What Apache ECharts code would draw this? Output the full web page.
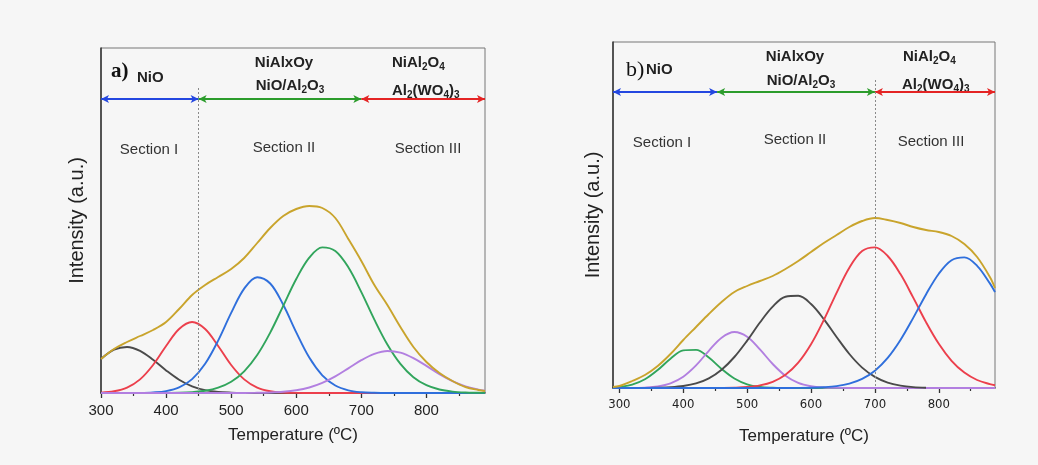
<!DOCTYPE html>
<html><head><meta charset="utf-8">
<script src="https://cdn.jsdelivr.net/npm/echarts@6/dist/echarts.min.js"></script>
<style>html,body{margin:0;padding:0;background:#f6f6f6}#c{width:1038px;height:465px}</style>
</head><body><div id="c"></div>
<script>
// ---------- Panel a ----------
const tempsA = [300,320,340,360,380,400,420,440,460,480,500,520,540,560,580,600,620,640,660,680,700,720,740,760,780,800,820,840,860,880,890];
const goldA   = [34,44,51,57,63,71,84,98,108,116,124,135,150,165,177,184,187,185,175,154,132,108,88,66,46,31,20,12,6,3,2];
const blackA  = [34,43.3,46,42.1,33.2,22.6,13.3,6.7,2.9,1.1,0.4,0.1,0,0,0,0,0,0,0,0,0,0,0,0,0,0,0,0,0,0,0];
const redA    = [0.4,1.7,5.4,13.6,28,47,64,71,64,47,28,13.6,5.4,1.7,0.4,0.1,0,0,0,0,0,0,0,0,0,0,0,0,0,0,0];
const blueA   = [0,0,0,0.1,0.6,1.9,5.6,13.9,29.2,52.4,80.1,104.4,115.8,109.5,88.2,60.6,35.4,17.7,7.5,2.7,0.8,0.2,0,0,0,0,0,0,0,0,0];
const greenA  = [0,0,0,0,0,0.1,0.3,0.9,2.2,5.3,11.2,21.7,38,60.4,87.2,114,135.3,145.6,142,125.7,100.9,73.4,48.5,29.1,15.8,7.8,3.5,1.4,0.5,0.2,0.1];
const purpleA = [0,0,0,0,0,0,0,0,0,0,0,0,0.2,0.5,1.2,2.7,5.5,10.1,16.6,24.6,32.8,39.1,42,40.4,34.9,27.1,18.9,11.9,6.7,3.4,2.3];
const majorTicksA = [300,400,500,600,700,800];
const minorTicksA = [350,450,550,650,750,850];
const sectionsA = [300,450,700,890];

// ---------- Panel b ----------
const tempsB = [290,300,320,340,360,380,400,420,440,460,480,500,520,540,560,580,600,620,640,660,680,700,720,740,760,780,800,820,840,860,880,888];
const goldB   = [1,2,7,13,22,34,48,61,74,86,96,102,107,112,119,127,136,145,153,161,167,170,168,165,161,158,156,152,144,131,111,100];
const greenB  = [0.5,1,3.3,8.7,18,29.3,37.6,38.1,30.4,19.1,9.5,3.7,1.1,0.3,0.05,0,0,0,0,0,0,0,0,0,0,0,0,0,0,0,0,0];
const purpleB = [0,0,0,0.4,1.6,4.7,11.3,22.6,37.2,50.3,56,51.3,38.6,24,12.2,5.1,1.8,0.5,0.1,0,0,0,0,0,0,0,0,0,0,0,0,0];
const blackB  = [0,0,0,0,0.3,0.8,2,4.6,9.7,18.3,31,47.4,65.5,81.4,91.3,92.2,84,68.9,51,34,20.4,11.1,5.4,2.4,0.9,0.3,null,null,null,null,null,null];
const redB    = [0,0,0,0,0,0,0,0,0,0.1,0.35,1,2.6,6.2,13.2,25.3,43.7,67.9,95.2,120.3,136.9,140.6,132,113.9,90.4,65.9,44.2,27.2,15.4,8,3.9,2.8];
const blueB   = [0,0,0,0,0,0,0,0,0,0,0,0,0,0,0.03,0.1,0.3,0.8,1.9,4.4,9.1,17.3,30.1,48,70.1,93.6,114.3,127.8,130.6,122.2,104.6,95.9];
const majorTicksB = [300,400,500,600,700,800];
const minorTicksB = [350,450,550,650,750,850];
const sectionsB = [290,453,700,888];

const SANS = '"Liberation Sans", Arial, sans-serif';
const COL = {gold:'#c9a42c', black:'#4a4a4a', red:'#ec3f4c', blue:'#2f6fdc', green:'#31a55c', purple:'#b27fe0'};
const ARROW = ['#2447e0', '#2c9c2c', '#e42424'];

function mk(name, temps, vals, color, xi, yi, extra) {
  return Object.assign({
    type:'line', name, xAxisIndex:xi, yAxisIndex:yi, smooth:0.35, showSymbol:false, symbol:'none',
    connectNulls:false, lineStyle:{color, width:1.9}, itemStyle:{color},
    data: temps.map((t,i)=>[t, vals[i]])
  }, extra||{});
}
function marks(bounds, yArrow, dashX, dashTop) {
  const d = [];
  for (let i=0;i<3;i++) {
    d.push([{coord:[bounds[i], yArrow], lineStyle:{color:ARROW[i], width:2, type:'solid'}}, {coord:[bounds[i+1], yArrow]}]);
  }
  d.push([{coord:[dashX, dashTop], symbol:'none', lineStyle:{color:'#8a8a8a', width:1, type:[2,2]}}, {coord:[dashX, 0], symbol:'none'}]);
  return {silent:true, symbol:['arrow','arrow'], symbolSize:[6,8], label:{show:false}, animation:false, data:d};
}
function xMajor(gi, min, max, ticks, fs, margin, gap, ff) {
  return {gridIndex:gi, type:'value', position:'bottom', min, max,
    axisLine:{show:true, onZero:false, lineStyle:{color:'#333', width:1.5}},
    axisTick:{show:true, inside:false, length:5, customValues:ticks, lineStyle:{color:'#333', width:1.3}},
    axisLabel:{show:true, customValues:ticks, fontSize:fs, color:'#222', fontFamily:ff, margin},
    splitLine:{show:false},
    name:'Temperature (ºC)', nameLocation:'middle', nameGap:gap,
    nameTextStyle:{fontSize:17, color:'#222', fontFamily:SANS}};
}
function xMinor(gi, min, max, ticks) {
  return {gridIndex:gi, type:'value', position:'bottom', min, max,
    axisLine:{show:false}, axisTick:{show:true, inside:false, length:3, customValues:ticks, lineStyle:{color:'#333', width:1.2}},
    axisLabel:{show:false}, splitLine:{show:false}};
}
function yAx(gi, max, gap) {
  return {gridIndex:gi, type:'value', min:0, max,
    axisLine:{show:true, lineStyle:{color:'#333', width:1.5}}, axisTick:{show:false}, axisLabel:{show:false}, splitLine:{show:false},
    name:'Intensity (a.u.)', nameLocation:'middle', nameGap:gap,
    nameTextStyle:{fontSize:20, color:'#222', fontFamily:SANS}};
}
function txt(x, y, text, font, align, fill) {
  return {type:'text', x, y, silent:true, style:{text, font, fill:fill||'#222', align:align||'left', verticalAlign:'middle'}};
}
function rtxt(x, y, text, align) {
  return {type:'text', x, y, silent:true, style:{text, align:align||'left', verticalAlign:'middle', fill:'#222',
    rich:{
      b:{fontSize:15, fontWeight:'bold', fontFamily:SANS, fill:'#222', lineHeight:18},
      s:{fontSize:10, fontWeight:'bold', fontFamily:SANS, fill:'#222', lineHeight:10, padding:[9,0,0,0]}
    }}};
}
const BOLD = 'bold 15px ' + SANS;
const SEC = '15px ' + SANS;

const option = {
  backgroundColor:'#f6f6f6',
  animation:false,
  grid:[
    {left:101, top:48, width:384, height:345, show:true, borderColor:'#777', borderWidth:1},
    {left:613, top:42, width:382, height:346, show:true, borderColor:'#777', borderWidth:1}
  ],
  xAxis:[
    xMajor(0, 300, 890, majorTicksA, 15, 10, 34, SANS),
    xMinor(0, 300, 890, minorTicksA),
    xMajor(1, 290, 888, majorTicksB, 13, 10, 40, '"Liberation Sans Narrow", "DejaVu Sans Condensed", ' + SANS),
    xMinor(1, 290, 888, minorTicksB)
  ],
  yAxis:[ yAx(0, 345, 14), yAx(1, 346, 10) ],
  series:[
    mk('black', tempsA, blackA, COL.black, 0, 0),
    mk('red', tempsA, redA, COL.red, 0, 0),
    mk('blue', tempsA, blueA, COL.blue, 0, 0),
    mk('green', tempsA, greenA, COL.green, 0, 0),
    mk('purple', tempsA, purpleA, COL.purple, 0, 0),
    mk('total', tempsA, goldA, COL.gold, 0, 0, {markLine: marks(sectionsA, 294, 450, 305)}),
    mk('green', tempsB, greenB, COL.green, 2, 1),
    mk('purple', tempsB, purpleB, COL.purple, 2, 1),
    mk('black', tempsB, blackB, COL.black, 2, 1),
    mk('red', tempsB, redB, COL.red, 2, 1),
    mk('blue', tempsB, blueB, COL.blue, 2, 1),
    mk('total', tempsB, goldB, COL.gold, 2, 1, {markLine: marks(sectionsB, 296, 700, 308)})
  ],
  graphic:[
    txt(111, 72, 'a)', 'bold 21px "Liberation Serif", serif', 'left', '#111'),
    txt(137, 78, 'NiO', BOLD),
    txt(284, 63, 'NiAlxOy', BOLD, 'center'),
    rtxt(290, 86, '{b|NiO/Al}{s|2}{b|O}{s|3}', 'center'),
    rtxt(392, 63, '{b|NiAl}{s|2}{b|O}{s|4}', 'left'),
    rtxt(392, 91, '{b|Al}{s|2}{b|(WO}{s|4}{b|)}{s|3}', 'left'),
    txt(149, 150, 'Section I', SEC, 'center', '#333'),
    txt(284, 148, 'Section II', SEC, 'center', '#333'),
    txt(428, 149, 'Section III', SEC, 'center', '#333'),
    txt(626, 70, 'b)', '22px "Liberation Serif", serif', 'left', '#111'),
    txt(646, 70, 'NiO', BOLD),
    txt(795, 57, 'NiAlxOy', BOLD, 'center'),
    rtxt(801, 81, '{b|NiO/Al}{s|2}{b|O}{s|3}', 'center'),
    rtxt(903, 57, '{b|NiAl}{s|2}{b|O}{s|4}', 'left'),
    rtxt(902, 85, '{b|Al}{s|2}{b|(WO}{s|4}{b|)}{s|3}', 'left'),
    txt(662, 143, 'Section I', SEC, 'center', '#333'),
    txt(795, 140, 'Section II', SEC, 'center', '#333'),
    txt(931, 142, 'Section III', SEC, 'center', '#333')
  ]
};
const chart = echarts.init(document.getElementById('c'), null, {renderer:'canvas'});
chart.setOption(option);
</script></body></html>
